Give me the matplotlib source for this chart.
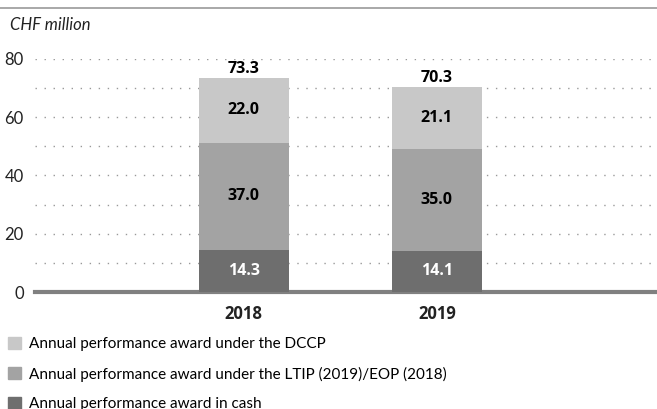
import matplotlib.pyplot as plt
from matplotlib.lines import Line2D
from matplotlib.patches import Patch

plt.rcParams['font.family'] = ['Lato', 'DejaVu Sans']
BOLD = ['Open Sans', 'DejaVu Sans']

years = ['2018', '2019']
cash = [14.3, 14.1]
ltip_eop = [37.0, 35.0]
dccp = [22.0, 21.1]
totals = [73.3, 70.3]
legend_labels = [
    'Annual performance award under the DCCP',
    'Annual performance award under the LTIP (2019)/EOP (2018)',
    'Annual performance award in cash',
]

c_dark = '#6e6e6e'
c_mid = '#a3a3a3'
c_light = '#c8c8c8'

fig = plt.figure(figsize=(6.57, 4.09), dpi=100)
ax = fig.add_axes([0.053, 0.286, 0.947, 0.570])

x = list(range(len(years)))
w = 0.47
fs = 12
bfs = 11.5
b1 = ax.bar(x, cash, w, color=c_dark, zorder=3)
b2 = ax.bar(x, ltip_eop, w, bottom=cash, color=c_mid, zorder=3)
bottom3 = [a + b for a, b in zip(cash, ltip_eop)]
b3 = ax.bar(x, dccp, w, bottom=bottom3, color=c_light, zorder=3)

lab = dict(fontweight='bold', fontsize=bfs, family=BOLD, zorder=4)
ax.bar_label(b1, labels=[f'{v:.1f}' for v in cash], label_type='center',
             color='white', **lab)
ax.bar_label(b2, labels=[f'{v:.1f}' for v in ltip_eop], label_type='center',
             color='black', **lab)
ax.bar_label(b3, labels=[f'{v:.1f}' for v in dccp], label_type='center',
             color='black', **lab)
ax.bar_label(b3, labels=[f'{v:.1f}' for v in totals], padding=1,
             color='black', **lab)

ax.set_xlim(-1.083, 2.14)
ax.set_ylim(0, 80)
ax.set_yticks([0, 20, 40, 60, 80])
ax.set_yticks(range(10, 80, 20), minor=True)
ax.set_xticks(x)
ax.set_xticklabels(years, fontweight='bold', fontsize=bfs, family=BOLD)
ax.tick_params(axis='both', length=0, labelsize=fs, colors='#222222', which='both')
ax.tick_params(axis='x', pad=9)
ax.tick_params(axis='y', pad=8)
ax.grid(axis='y', which='both', color='#999999', linestyle=(0, (1, 5.5)),
        linewidth=1, zorder=1)
for s in ax.spines.values():
    s.set_visible(False)

ax.axhline(0, color='#808080', linewidth=3, zorder=2, clip_on=False)

# top rule and unit label
fig.add_artist(Line2D([0, 1], [0.980, 0.980], color='#999999', linewidth=1.2))
fig.text(0.015, 0.938, 'CHF million', fontsize=fs, style='italic',
         va='center', ha='left', color='#222222')

handles = [Patch(color=c_light), Patch(color=c_mid), Patch(color=c_dark)]
fig.legend(handles, legend_labels, loc='upper left',
           bbox_to_anchor=(0.005, 0.187), frameon=False, fontsize=11,
           handlelength=0.85, handleheight=0.85, handletextpad=0.55,
           labelspacing=0.99, borderaxespad=0, borderpad=0.3)

fig.savefig('out.png', dpi=100)
